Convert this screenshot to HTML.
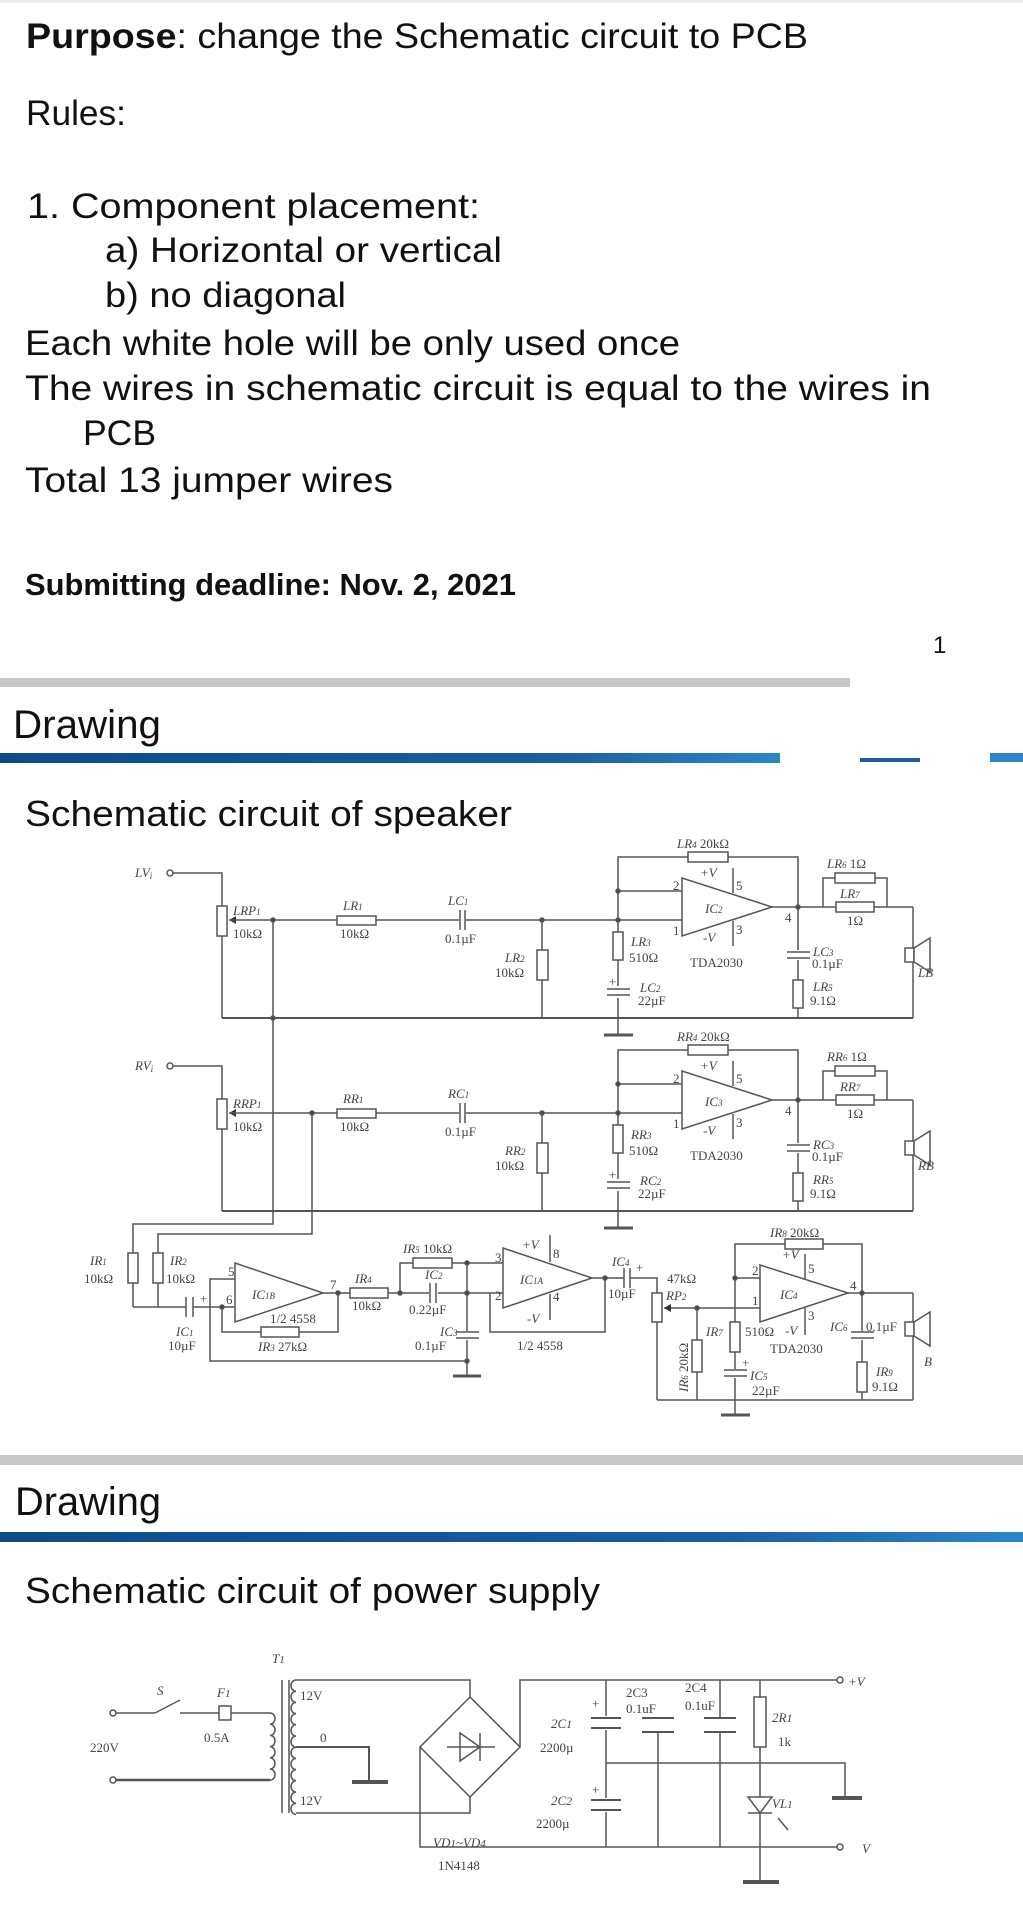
<!DOCTYPE html>
<html><head><meta charset="utf-8"><style>
html,body{margin:0;padding:0;background:#fff;}
svg{display:block;}
.t{font-family:"Liberation Sans",sans-serif;fill:#111;}
.s{font-family:"Liberation Serif",serif;font-style:italic;fill:#444;font-size:13px;}
.n{font-family:"Liberation Serif",serif;fill:#444;font-size:13px;}
</style></head><body>
<svg width="1023" height="1920" viewBox="0 0 1023 1920" xmlns="http://www.w3.org/2000/svg">
<defs>
<linearGradient id="bl" x1="0" x2="1"><stop offset="0" stop-color="#0d4a8c"/><stop offset="0.7" stop-color="#1a5ea0"/><stop offset="1" stop-color="#2b86c8"/></linearGradient>
<g id="ch">
 <circle cx="170" cy="873" r="3" fill="#fff" stroke="#555"/>
 <polyline points="173,873 222,873 222,906" fill="none"/>
 <rect x="217" y="906" width="10" height="30" fill="#fff"/>
 <polygon points="229,920 236,916 236,924" fill="#333" stroke="none"/>
 <line x1="222" y1="936" x2="222" y2="1018"/>
 <line x1="229" y1="920" x2="682" y2="920"/>
 <rect x="337" y="916" width="39" height="9" fill="#fff"/>
 <rect x="459" y="908" width="7" height="24" fill="#fff" stroke="none"/>
 <line x1="460" y1="910" x2="460" y2="930"/><line x1="465" y1="910" x2="465" y2="930"/>
 <circle cx="542" cy="920" r="2" fill="#444"/>
 <line x1="542" y1="920" x2="542" y2="1018"/>
 <rect x="537" y="950" width="11" height="30" fill="#fff"/>
 <line x1="222" y1="1018" x2="913" y2="1018" stroke-width="2"/>
 <polyline points="618,1018 618,857 798,857 798,1018" fill="none"/>
 <rect x="688" y="852" width="40" height="10" fill="#fff"/>
 <line x1="618" y1="891" x2="682" y2="891"/>
 <circle cx="618" cy="891" r="2" fill="#444"/><circle cx="618" cy="920" r="2" fill="#444"/>
 <rect x="613" y="932" width="10" height="28" fill="#fff"/>
 <rect x="605" y="986" width="27" height="12" fill="#fff" stroke="none"/>
 <line x1="607" y1="989" x2="630" y2="989"/><line x1="607" y1="995" x2="630" y2="995"/>
 <polygon points="682,878 682,936 772,907" fill="#fff"/>
 <line x1="733" y1="868" x2="733" y2="893"/><line x1="733" y1="921" x2="733" y2="946"/>
 <line x1="772" y1="907" x2="913" y2="907"/>
 <circle cx="798" cy="907" r="2" fill="#444"/>
 <rect x="786" y="950" width="25" height="10" fill="#fff" stroke="none"/>
 <line x1="787" y1="952" x2="810" y2="952"/><line x1="787" y1="958" x2="810" y2="958"/>
 <rect x="793" y="980" width="10" height="28" fill="#fff"/>
 <polyline points="823,907 823,878 887,878 887,907" fill="none"/>
 <rect x="835" y="873" width="40" height="10" fill="#fff"/>
 <rect x="836" y="902" width="38" height="10" fill="#fff"/>
 <line x1="913" y1="907" x2="913" y2="1018"/>
 <rect x="905" y="948" width="9" height="14" fill="#fff"/>
 <polygon points="914,948 930,938 930,972 914,962" fill="#fff"/>
 <line x1="618" y1="1018" x2="618" y2="1035"/>
 <line x1="604" y1="1035" x2="633" y2="1035" stroke-width="3"/>
</g>
</defs>

<rect x="0" y="0" width="1023" height="3" fill="#eee"/>
<text class="t" x="26" y="48" font-size="35" textLength="782" lengthAdjust="spacingAndGlyphs"><tspan font-weight="bold">Purpose</tspan>: change the Schematic circuit to PCB</text>
<text class="t" x="26" y="125" font-size="35" textLength="100" lengthAdjust="spacingAndGlyphs">Rules:</text>
<text class="t" x="27" y="218" font-size="35" textLength="453" lengthAdjust="spacingAndGlyphs">1.  Component placement:</text>
<text class="t" x="105" y="262" font-size="35" textLength="397" lengthAdjust="spacingAndGlyphs">a) Horizontal or vertical</text>
<text class="t" x="105" y="307" font-size="35" textLength="241" lengthAdjust="spacingAndGlyphs">b) no diagonal</text>
<text class="t" x="25" y="355" font-size="35" textLength="655" lengthAdjust="spacingAndGlyphs">Each white hole will be only used once</text>
<text class="t" x="25" y="400" font-size="35" textLength="906" lengthAdjust="spacingAndGlyphs">The wires in schematic circuit is equal to the wires in</text>
<text class="t" x="83" y="445" font-size="35" textLength="73" lengthAdjust="spacingAndGlyphs">PCB</text>
<text class="t" x="25" y="492" font-size="35" textLength="368" lengthAdjust="spacingAndGlyphs">Total 13 jumper wires</text>
<text class="t" x="25" y="595" font-size="31" font-weight="bold" textLength="491" lengthAdjust="spacingAndGlyphs">Submitting deadline: Nov. 2, 2021</text>
<text class="t" x="933" y="653" font-size="24" fill="#333">1</text>

<rect x="0" y="678" width="850" height="9" fill="#c8c8c8"/>
<text class="t" x="13" y="738" font-size="40" textLength="148" lengthAdjust="spacingAndGlyphs">Drawing</text>
<rect x="0" y="753" width="780" height="10" fill="url(#bl)"/>
<rect x="860" y="758" width="60" height="4" fill="#1a5ea0"/><rect x="990" y="753" width="33" height="9" fill="#2b86c8"/>
<text class="t" x="25" y="826" font-size="36" textLength="487" lengthAdjust="spacingAndGlyphs">Schematic circuit of speaker</text>

<g stroke="#555" stroke-width="1.5">
<use href="#ch"/>
<use href="#ch" y="193"/>
</g>
<text class="s" x="135" y="877">LV<tspan font-size="9" dy="2">i</tspan></text>
<text class="s" x="135" y="1070">RV<tspan font-size="9" dy="2">i</tspan></text>
<!-- labels L -->
<g>
<text class="s" x="233" y="915">LRP<tspan font-size="9">1</tspan></text><text class="n" x="233" y="938">10kΩ</text>
<text class="s" x="343" y="910">LR<tspan font-size="9">1</tspan></text><text class="n" x="340" y="938">10kΩ</text>
<text class="s" x="448" y="905">LC<tspan font-size="9">1</tspan></text><text class="n" x="445" y="943">0.1µF</text>
<text class="s" x="505" y="962">LR<tspan font-size="9">2</tspan></text><text class="n" x="495" y="977">10kΩ</text>
<text class="s" x="677" y="848">LR<tspan font-size="9">4</tspan> <tspan font-style="normal">20kΩ</tspan></text>
<text class="s" x="700" y="877">+V</text><text class="n" x="736" y="890" font-size="11">5</text>
<text class="s" x="705" y="913">IC<tspan font-size="9">2</tspan></text>
<text class="s" x="703" y="942">-V</text><text class="n" x="736" y="934" font-size="11">3</text>
<text class="n" x="673" y="890" font-size="11">2</text><text class="n" x="673" y="935" font-size="11">1</text>
<text class="n" x="690" y="967">TDA2030</text>
<text class="s" x="631" y="946">LR<tspan font-size="9">3</tspan></text><text class="n" x="629" y="962">510Ω</text>
<text class="n" x="609" y="986" font-size="10">+</text>
<text class="s" x="640" y="992">LC<tspan font-size="9">2</tspan></text><text class="n" x="638" y="1005">22µF</text>
<text class="n" x="785" y="922" font-size="11">4</text>
<text class="s" x="813" y="956">LC<tspan font-size="9">3</tspan></text><text class="n" x="812" y="968">0.1µF</text>
<text class="s" x="813" y="991">LR<tspan font-size="9">5</tspan></text><text class="n" x="810" y="1005">9.1Ω</text>
<text class="s" x="827" y="868">LR<tspan font-size="9">6</tspan> <tspan font-style="normal">1Ω</tspan></text>
<text class="s" x="840" y="898">LR<tspan font-size="9">7</tspan></text><text class="n" x="847" y="925">1Ω</text>
<text class="s" x="918" y="977">LB</text>
</g>
<!-- labels R -->
<g transform="translate(0,193)">
<text class="s" x="233" y="915">RRP<tspan font-size="9">1</tspan></text><text class="n" x="233" y="938">10kΩ</text>
<text class="s" x="343" y="910">RR<tspan font-size="9">1</tspan></text><text class="n" x="340" y="938">10kΩ</text>
<text class="s" x="448" y="905">RC<tspan font-size="9">1</tspan></text><text class="n" x="445" y="943">0.1µF</text>
<text class="s" x="505" y="962">RR<tspan font-size="9">2</tspan></text><text class="n" x="495" y="977">10kΩ</text>
<text class="s" x="677" y="848">RR<tspan font-size="9">4</tspan> <tspan font-style="normal">20kΩ</tspan></text>
<text class="s" x="700" y="877">+V</text><text class="n" x="736" y="890" font-size="11">5</text>
<text class="s" x="705" y="913">IC<tspan font-size="9">3</tspan></text>
<text class="s" x="703" y="942">-V</text><text class="n" x="736" y="934" font-size="11">3</text>
<text class="n" x="673" y="890" font-size="11">2</text><text class="n" x="673" y="935" font-size="11">1</text>
<text class="n" x="690" y="967">TDA2030</text>
<text class="s" x="631" y="946">RR<tspan font-size="9">3</tspan></text><text class="n" x="629" y="962">510Ω</text>
<text class="n" x="609" y="986" font-size="10">+</text>
<text class="s" x="640" y="992">RC<tspan font-size="9">2</tspan></text><text class="n" x="638" y="1005">22µF</text>
<text class="n" x="785" y="922" font-size="11">4</text>
<text class="s" x="813" y="956">RC<tspan font-size="9">3</tspan></text><text class="n" x="812" y="968">0.1µF</text>
<text class="s" x="813" y="991">RR<tspan font-size="9">5</tspan></text><text class="n" x="810" y="1005">9.1Ω</text>
<text class="s" x="827" y="868">RR<tspan font-size="9">6</tspan> <tspan font-style="normal">1Ω</tspan></text>
<text class="s" x="840" y="898">RR<tspan font-size="9">7</tspan></text><text class="n" x="847" y="925">1Ω</text>
<text class="s" x="918" y="977">RB</text>
</g>

<!-- bottom section -->
<g stroke="#555" stroke-width="1.5" fill="none">
 <polyline points="273,920 273,1224 133,1224 133,1307"/>
 <circle cx="273" cy="1018" r="2" fill="#444"/><circle cx="273" cy="920" r="2" fill="#444"/>
 <polyline points="312,1113 312,1234 158,1234 158,1307"/>
 <circle cx="312" cy="1113" r="2" fill="#444"/>
 <rect x="128" y="1253" width="10" height="30" fill="#fff"/>
 <rect x="153" y="1253" width="10" height="30" fill="#fff"/>
 <line x1="133" y1="1307" x2="186" y2="1307"/>
 <line x1="186" y1="1297" x2="186" y2="1317"/><line x1="193" y1="1297" x2="193" y2="1317"/>
 <line x1="193" y1="1307" x2="235" y2="1307"/>
 <polyline points="235,1279 210,1279 210,1361 467,1361"/>
 <polygon points="235,1263 235,1322 323,1293" fill="#fff"/>
 <polyline points="222,1307 222,1332 338,1332 338,1293"/>
 <circle cx="222" cy="1307" r="2" fill="#444"/>
 <rect x="261" y="1327" width="38" height="10" fill="#fff"/>
 <line x1="323" y1="1293" x2="490" y2="1293"/>
 <circle cx="338" cy="1293" r="2" fill="#444"/><circle cx="400" cy="1293" r="2" fill="#444"/>
 <rect x="350" y="1288" width="38" height="10" fill="#fff"/>
 <polyline points="400,1293 400,1263 503,1263"/>
 <rect x="413" y="1258" width="39" height="10" fill="#fff"/>
 <rect x="429" y="1282" width="9" height="22" fill="#fff" stroke="none"/>
 <line x1="430" y1="1283" x2="430" y2="1303"/><line x1="436" y1="1283" x2="436" y2="1303"/>
 <line x1="467" y1="1263" x2="467" y2="1376"/>
 <circle cx="467" cy="1263" r="2" fill="#444"/><circle cx="467" cy="1293" r="2" fill="#444"/><circle cx="467" cy="1361" r="2" fill="#444"/>
 <rect x="455" y="1331" width="25" height="9" fill="#fff" stroke="none"/>
 <line x1="456" y1="1332" x2="479" y2="1332"/><line x1="456" y1="1338" x2="479" y2="1338"/>
 <line x1="453" y1="1376" x2="481" y2="1376" stroke-width="3"/>
 <line x1="490" y1="1293" x2="503" y2="1293"/>
 <polyline points="490,1293 490,1332 605,1332 605,1278"/>
 <polygon points="503,1248 503,1308 592,1278" fill="#fff"/>
 <line x1="550" y1="1235" x2="550" y2="1262"/><line x1="550" y1="1294" x2="550" y2="1320"/>
 <line x1="592" y1="1278" x2="624" y2="1278"/>
 <circle cx="605" cy="1278" r="2" fill="#444"/>
 <line x1="624" y1="1268" x2="624" y2="1288"/><line x1="630" y1="1268" x2="630" y2="1288"/>
 <polyline points="630,1278 657,1278 657,1293"/>
 <rect x="652" y="1293" width="10" height="29" fill="#fff"/>
 <line x1="657" y1="1322" x2="657" y2="1400"/>
 <line x1="664" y1="1308" x2="760" y2="1308"/>
 <line x1="697" y1="1308" x2="697" y2="1400"/>
 <circle cx="697" cy="1308" r="2" fill="#444"/>
 <rect x="692" y="1340" width="10" height="32" fill="#fff"/>
 <line x1="657" y1="1400" x2="913" y2="1400"/>
 <polyline points="735,1400 735,1244 862,1244 862,1400"/>
 <line x1="735" y1="1278" x2="760" y2="1278"/>
 <circle cx="735" cy="1278" r="2" fill="#444"/>
 <rect x="785" y="1239" width="38" height="10" fill="#fff"/>
 <rect x="730" y="1322" width="10" height="30" fill="#fff"/>
 <rect x="723" y="1369" width="25" height="9" fill="#fff" stroke="none"/>
 <line x1="724" y1="1370" x2="747" y2="1370"/><line x1="724" y1="1376" x2="747" y2="1376"/>
 <line x1="735" y1="1400" x2="735" y2="1415"/>
 <line x1="721" y1="1415" x2="750" y2="1415" stroke-width="3"/>
 <polygon points="760,1265 760,1322 848,1293" fill="#fff"/>
 <line x1="805" y1="1254" x2="805" y2="1280"/><line x1="805" y1="1308" x2="805" y2="1335"/>
 <line x1="848" y1="1293" x2="913" y2="1293"/>
 <circle cx="862" cy="1293" r="2" fill="#444"/>
 <rect x="850" y="1331" width="25" height="9" fill="#fff" stroke="none"/>
 <line x1="851" y1="1332" x2="874" y2="1332"/><line x1="851" y1="1338" x2="874" y2="1338"/>
 <rect x="857" y="1362" width="10" height="30" fill="#fff"/>
 <line x1="913" y1="1293" x2="913" y2="1400"/>
 <rect x="905" y="1322" width="9" height="14" fill="#fff"/>
 <polygon points="914,1322 930,1312 930,1346 914,1336" fill="#fff"/>
</g>
<polygon points="664,1308 671,1304 671,1312" fill="#333"/>
<g>
<text class="s" x="90" y="1265">IR<tspan font-size="9">1</tspan></text><text class="n" x="84" y="1283">10kΩ</text>
<text class="s" x="170" y="1265">IR<tspan font-size="9">2</tspan></text><text class="n" x="166" y="1283">10kΩ</text>
<text class="n" x="200" y="1303" font-size="10">+</text>
<text class="s" x="176" y="1336">IC<tspan font-size="9">1</tspan></text><text class="n" x="168" y="1350">10µF</text>
<text class="n" x="228" y="1276" font-size="11">5</text><text class="n" x="226" y="1304" font-size="11">6</text>
<text class="s" x="252" y="1299">IC<tspan font-size="9">1B</tspan></text>
<text class="n" x="270" y="1323">1/2 4558</text>
<text class="s" x="258" y="1351">IR<tspan font-size="9">3</tspan> <tspan font-style="normal">27kΩ</tspan></text>
<text class="n" x="330" y="1289" font-size="11">7</text>
<text class="s" x="355" y="1283">IR<tspan font-size="9">4</tspan></text><text class="n" x="352" y="1310">10kΩ</text>
<text class="s" x="403" y="1253">IR<tspan font-size="9">5</tspan> <tspan font-style="normal">10kΩ</tspan></text>
<text class="s" x="425" y="1279">IC<tspan font-size="9">2</tspan></text><text class="n" x="409" y="1314">0.22µF</text>
<text class="s" x="440" y="1336">IC<tspan font-size="9">3</tspan></text><text class="n" x="415" y="1350">0.1µF</text>
<text class="s" x="522" y="1249">+V</text><text class="n" x="553" y="1258" font-size="11">8</text>
<text class="s" x="520" y="1284">IC<tspan font-size="9">1A</tspan></text>
<text class="n" x="553" y="1301" font-size="11">4</text><text class="s" x="527" y="1323">-V</text>
<text class="n" x="495" y="1262" font-size="11">3</text><text class="n" x="495" y="1300" font-size="11">2</text>
<text class="n" x="517" y="1350">1/2 4558</text>
<text class="s" x="612" y="1266">IC<tspan font-size="9">4</tspan></text><text class="n" x="636" y="1272" font-size="10">+</text>
<text class="n" x="608" y="1298">10µF</text>
<text class="n" x="667" y="1283">47kΩ</text><text class="s" x="666" y="1300">RP<tspan font-size="9">2</tspan></text>
<text class="s" x="770" y="1237">IR<tspan font-size="9">8</tspan> <tspan font-style="normal">20kΩ</tspan></text>
<text class="s" x="782" y="1259">+V</text><text class="n" x="808" y="1273" font-size="11">5</text>
<text class="s" x="780" y="1299">IC<tspan font-size="9">4</tspan></text>
<text class="n" x="752" y="1275" font-size="11">2</text><text class="n" x="752" y="1305" font-size="11">1</text>
<text class="n" x="850" y="1290" font-size="11">4</text>
<text class="n" x="808" y="1320" font-size="11">3</text><text class="s" x="785" y="1335">-V</text>
<text class="s" x="706" y="1336">IR<tspan font-size="9">7</tspan></text><text class="n" x="745" y="1336">510Ω</text>
<text class="n" x="770" y="1353">TDA2030</text>
<text class="n" x="742" y="1367" font-size="10">+</text>
<text class="s" x="750" y="1380">IC<tspan font-size="9">5</tspan></text><text class="n" x="752" y="1395">22µF</text>
<text class="s" x="830" y="1331">IC<tspan font-size="9">6</tspan></text><text class="n" x="866" y="1331">0.1µF</text>
<text class="s" x="876" y="1376">IR<tspan font-size="9">9</tspan></text><text class="n" x="872" y="1391">9.1Ω</text>
<text class="s" x="924" y="1366">B</text>
<text class="s" x="0" y="0" transform="translate(688,1392) rotate(-90)">IR<tspan font-size="9">6</tspan> <tspan font-style="normal">20kΩ</tspan></text>
</g>

<rect x="0" y="1455" width="1023" height="10" fill="#c8c8c8"/>
<text class="t" x="15" y="1515" font-size="40" textLength="146" lengthAdjust="spacingAndGlyphs">Drawing</text>
<rect x="0" y="1532" width="1023" height="10" fill="url(#bl)"/>
<text class="t" x="25" y="1603" font-size="36" textLength="575" lengthAdjust="spacingAndGlyphs">Schematic circuit of power supply</text>

<!-- power supply -->
<g stroke="#555" stroke-width="1.5" fill="none">
 <circle cx="113" cy="1713" r="3" fill="#fff"/>
 <circle cx="113" cy="1780" r="3" fill="#fff"/>
 <line x1="116" y1="1713" x2="155" y2="1713"/>
 <line x1="155" y1="1713" x2="180" y2="1700"/>
 <line x1="180" y1="1713" x2="270" y2="1713"/>
 <rect x="219" y="1706" width="12" height="14" fill="#fff"/>
 <line x1="116" y1="1780" x2="270" y2="1780" stroke-width="2.5"/>
 <path d="M270,1713 a5,5.6 0 0 1 0,11.2 a5,5.6 0 0 1 0,11.2 a5,5.6 0 0 1 0,11.2 a5,5.6 0 0 1 0,11.2 a5,5.6 0 0 1 0,11.2 a5,5.6 0 0 1 0,11.2"/>
 <line x1="282" y1="1680" x2="282" y2="1813"/><line x1="289" y1="1680" x2="289" y2="1813"/>
 <path d="M296,1680 a5,5.6 0 0 0 0,11.2 a5,5.6 0 0 0 0,11.2 a5,5.6 0 0 0 0,11.2 a5,5.6 0 0 0 0,11.2 a5,5.6 0 0 0 0,11.2 a5,5.6 0 0 0 0,11.2 a5,5.6 0 0 0 0,11.2 a5,5.6 0 0 0 0,11.2 a5,5.6 0 0 0 0,11.2 a5,5.6 0 0 0 0,11.2 a5,5.6 0 0 0 0,11.2 a5,5.6 0 0 0 0,11.2"/>
 <polyline points="296,1680 470,1680 470,1697"/>
 <polyline points="296,1747 369,1747 369,1782" stroke-width="2"/>
 <line x1="352" y1="1782" x2="388" y2="1782" stroke-width="4"/>
 <polyline points="296,1813 470,1813 470,1797"/>
 <polygon points="470,1697 520,1747 470,1797 420,1747"/>
 <line x1="447" y1="1747" x2="495" y2="1747"/>
 <polygon points="460,1733 460,1761 480,1747"/>
 <line x1="480" y1="1733" x2="480" y2="1761"/>
 <polyline points="520,1747 520,1680 837,1680"/>
 <polyline points="420,1747 420,1847 837,1847"/>
 <circle cx="840" cy="1680" r="3" fill="#fff"/><circle cx="840" cy="1847" r="3" fill="#fff"/>
 <line x1="606" y1="1680" x2="606" y2="1847"/>
 <rect x="592" y="1716" width="30" height="14" fill="#fff" stroke="none"/>
 <line x1="591" y1="1718" x2="621" y2="1718" stroke-width="2"/><line x1="591" y1="1728" x2="621" y2="1728" stroke-width="2"/>
 <rect x="592" y="1798" width="30" height="14" fill="#fff" stroke="none"/>
 <line x1="591" y1="1800" x2="621" y2="1800" stroke-width="2"/><line x1="591" y1="1810" x2="621" y2="1810" stroke-width="2"/>
 <polyline points="606,1763 845,1763 845,1798"/>
 <line x1="832" y1="1798" x2="862" y2="1798" stroke-width="4"/>
 <line x1="658" y1="1732" x2="658" y2="1847"/>
 <line x1="642" y1="1718" x2="674" y2="1718" stroke-width="2"/><line x1="642" y1="1732" x2="674" y2="1732" stroke-width="2"/>
 <line x1="720" y1="1680" x2="720" y2="1718"/>
 <line x1="720" y1="1732" x2="720" y2="1847"/>
 <line x1="704" y1="1718" x2="736" y2="1718" stroke-width="2"/><line x1="704" y1="1732" x2="736" y2="1732" stroke-width="2"/>
 <line x1="760" y1="1680" x2="760" y2="1882"/>
 <rect x="754" y="1697" width="12" height="50" fill="#fff"/>
 <polygon points="748,1797 772,1797 760,1813" fill="#fff"/>
 <line x1="748" y1="1813" x2="772" y2="1813"/>
 <line x1="778" y1="1818" x2="788" y2="1830"/>
 <line x1="743" y1="1882" x2="779" y2="1882" stroke-width="4"/>
</g>
<g>
<text class="s" x="272" y="1663" font-size="16">T<tspan font-size="11">1</tspan></text>
<text class="s" x="157" y="1695" font-size="16">S</text>
<text class="s" x="217" y="1697" font-size="16">F<tspan font-size="11">1</tspan></text>
<text class="n" x="204" y="1742" font-size="16">0.5A</text>
<text class="n" x="90" y="1752" font-size="16">220V</text>
<text class="n" x="300" y="1700" font-size="16">12V</text>
<text class="n" x="320" y="1742" font-size="16">0</text>
<text class="n" x="300" y="1805" font-size="16">12V</text>
<text class="n" x="592" y="1708" font-size="12">+</text>
<text class="s" x="551" y="1728" font-size="17">2C<tspan font-size="12">1</tspan></text>
<text class="n" x="540" y="1752" font-size="16">2200µ</text>
<text class="n" x="592" y="1794" font-size="12">+</text>
<text class="s" x="551" y="1805" font-size="17">2C<tspan font-size="12">2</tspan></text>
<text class="n" x="536" y="1828" font-size="16">2200µ</text>
<text class="s" x="433" y="1847" font-size="16">VD<tspan font-size="11">1</tspan>~VD<tspan font-size="11">4</tspan></text>
<text class="n" x="438" y="1870" font-size="17">1N4148</text>
<text class="n" x="626" y="1697" font-size="7" fill="#668">2C3</text><text class="n" x="626" y="1713" font-size="7" fill="#668">0.1uF</text>
<text class="n" x="685" y="1692" font-size="7" fill="#668">2C4</text><text class="n" x="685" y="1710" font-size="7" fill="#668">0.1uF</text>
<text class="s" x="772" y="1722" font-size="17">2R<tspan font-size="12">1</tspan></text>
<text class="n" x="778" y="1746" font-size="16">1k</text>
<text class="s" x="772" y="1808" font-size="16">VL<tspan font-size="11">1</tspan></text>
<text class="s" x="848" y="1686" font-size="17">+V</text>
<text class="s" x="862" y="1853" font-size="17">V</text>
</g>
</svg>
</body></html>
